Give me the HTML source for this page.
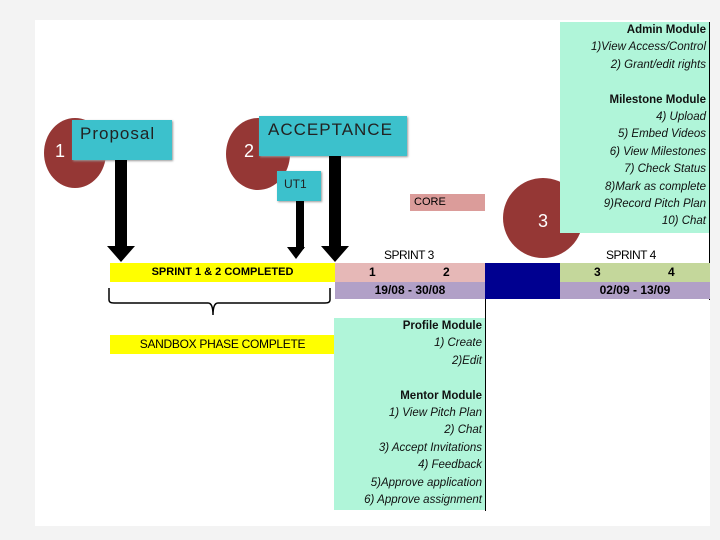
<!DOCTYPE html>
<html><head><style>
body{margin:0;width:720px;height:540px;background:#f3f3f3;position:relative;overflow:hidden;font-family:"Liberation Sans",sans-serif}
.a{position:absolute}
.c{border-radius:50%;background:#953735;position:absolute}
.t{background:#3cc1cc;position:absolute;box-shadow:1px 1px 2px #999}
.g{background:#b0f5d9;position:absolute;text-align:right;font-size:11.5px;line-height:17.4px;color:#111;padding-right:4px;box-sizing:border-box}
.g b{font-weight:bold;font-style:normal}
.g i{font-style:italic}
.shaft{position:absolute;background:#000}
.head{position:absolute;width:0;height:0;border-left:14px solid transparent;border-right:14px solid transparent;border-top:16px solid #000}
</style></head><body>
<div class="a" style="left:35px;top:20px;width:675px;height:506px;background:#fff"></div>
<div class="c" style="left:44px;top:118px;width:62px;height:70px"></div>
<div class="a" style="left:55px;top:141px;color:#fff;font-size:18px">1</div>
<div class="t" style="left:72px;top:120px;width:100px;height:40px"><span class="a" style="left:8px;top:4px;font-size:17px;letter-spacing:1px;color:#222">Proposal</span></div>
<div class="c" style="left:226px;top:118px;width:64px;height:72px"></div>
<div class="a" style="left:244px;top:141px;color:#fff;font-size:18px">2</div>
<div class="t" style="left:259px;top:116px;width:148px;height:40px"><span class="a" style="left:9px;top:4px;font-size:17px;letter-spacing:1px;color:#222">ACCEPTANCE</span></div>
<div class="t" style="left:277px;top:171px;width:44px;height:30px"><span class="a" style="left:7px;top:6px;font-size:12px;color:#222">UT1</span></div>
<div class="shaft" style="left:115px;top:160px;width:12px;height:88px"></div><div class="head" style="left:107px;top:246px"></div>
<div class="shaft" style="left:296px;top:201px;width:8px;height:48px"></div><div class="head" style="left:287px;top:247px;border-left-width:9px;border-right-width:9px;border-top-width:12px"></div>
<div class="shaft" style="left:329px;top:156px;width:12px;height:92px"></div><div class="head" style="left:321px;top:246px"></div>
<div class="a" style="left:410px;top:194px;width:75px;height:17px;background:#db9c9a;font-size:11px;line-height:17px;padding-left:4px;box-sizing:border-box">CORE</div>
<div class="c" style="left:503px;top:178px;width:80px;height:80px"></div>
<div class="a" style="left:538px;top:211px;color:#fff;font-size:18px">3</div>
<div class="g" style="left:560px;top:22px;width:150px;height:211px;padding-top:0"><b>Admin Module</b><br><i>1)View Access/Control</i><br><i>2) Grant/edit rights</i><br><br><b>Milestone Module</b><br><i>4) Upload</i><br><i>5) Embed Videos</i><br><i>6) View Milestones</i><br><i>7) Check Status</i><br><i>8)Mark as complete</i><br><i>9)Record Pitch Plan</i><br><i>10) Chat</i></div>
<div class="a" style="left:709px;top:22px;width:1px;height:278px;background:#000"></div>
<div class="a" style="left:384px;top:248px;font-size:12px;letter-spacing:-0.5px">SPRINT 3</div>
<div class="a" style="left:606px;top:248px;font-size:12px;letter-spacing:-0.5px">SPRINT 4</div>
<div class="a" style="left:110px;top:263px;width:225px;height:19px;background:#ffff00;font-size:11px;font-weight:bold;line-height:19px;text-align:center">SPRINT 1 &amp; 2 COMPLETED</div>
<div class="a" style="left:335px;top:263px;width:150px;height:19px;background:#e6b8b7;font-size:12px;font-weight:bold;line-height:19px"><span class="a" style="left:34px">1</span><span class="a" style="left:108px">2</span></div>
<div class="a" style="left:335px;top:282px;width:150px;height:17px;background:#b1a0c7;font-size:12px;font-weight:bold;line-height:17px;text-align:center">19/08 - 30/08</div>
<div class="a" style="left:485px;top:263px;width:75px;height:36px;background:#000090"></div>
<div class="a" style="left:560px;top:263px;width:150px;height:19px;background:#c4d79b;font-size:12px;font-weight:bold;line-height:19px"><span class="a" style="left:34px">3</span><span class="a" style="left:108px">4</span></div>
<div class="a" style="left:560px;top:282px;width:150px;height:17px;background:#b1a0c7;font-size:12px;font-weight:bold;line-height:17px;text-align:center">02/09 - 13/09</div>
<svg class="a" style="left:100px;top:285px" width="240" height="40"><path d="M9 3 V15 Q9 18 14 18 H108 Q113 18 113 30 Q113 18 118 18 H225 Q230 18 230 15 V3" fill="none" stroke="#000" stroke-width="1.5"/></svg>
<div class="a" style="left:110px;top:335px;width:225px;height:19px;background:#ffff00;font-size:12px;line-height:19px;text-align:center;letter-spacing:-0.3px">SANDBOX PHASE COMPLETE</div>
<div class="g" style="left:334px;top:318px;width:152px;height:192px"><b>Profile Module</b><br><i>1) Create</i><br><i>2)Edit</i><br><br><b>Mentor Module</b><br><i>1) View Pitch Plan</i><br><i>2) Chat</i><br><i>3) Accept Invitations</i><br><i>4) Feedback</i><br><i>5)Approve application</i><br><i>6) Approve assignment</i></div>
<div class="a" style="left:485px;top:299px;width:1px;height:212px;background:#000"></div>
</body></html>
